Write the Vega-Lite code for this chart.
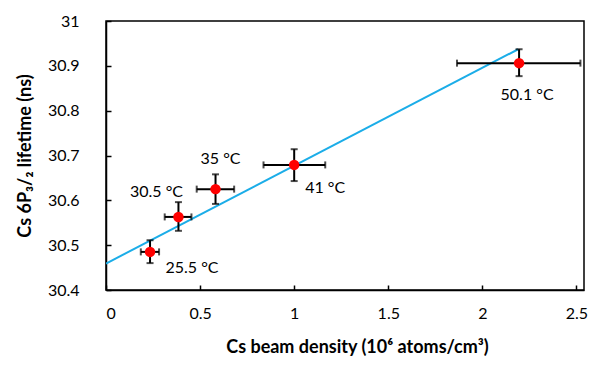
{
  "$schema": "https://vega.github.io/schema/vega-lite/v6.json",
  "width": 478,
  "height": 269,
  "autosize": "none",
  "padding": {"left": 106, "top": 21, "right": 8, "bottom": 77},
  "background": "white",
  "config": {
    "font": "Lato",
    "view": {"stroke": "black", "strokeWidth": 1.5},
    "axis": {
      "grid": false,
      "domainColor": "black",
      "domainWidth": 1.5,
      "tickColor": "black",
      "tickWidth": 1.5,
      "tickSize": -5,
      "labelFontSize": 16,
      "labelColor": "black",
      "titleFontSize": 18,
      "titleFontWeight": "bold",
      "titleColor": "black"
    }
  },
  "datasets": {
    "pts": [
      {"label": "25.5 °C", "x": 0.234, "xlo": 0.185, "xhi": 0.282, "y": 30.485, "ylo": 30.46, "yhi": 30.511},
      {"label": "30.5 °C", "x": 0.385, "xlo": 0.312, "xhi": 0.454, "y": 30.563, "ylo": 30.532, "yhi": 30.596},
      {"label": "35 °C", "x": 0.582, "xlo": 0.482, "xhi": 0.681, "y": 30.625, "ylo": 30.592, "yhi": 30.658},
      {"label": "41 °C", "x": 1.0, "xlo": 0.837, "xhi": 1.165, "y": 30.679, "ylo": 30.643, "yhi": 30.714},
      {"label": "50.1 °C", "x": 2.195, "xlo": 1.865, "xhi": 2.521, "y": 30.906, "ylo": 30.877, "yhi": 30.937}
    ],
    "fit": [
      {"x": 0, "y": 30.459},
      {"x": 2.19, "y": 30.937}
    ]
  },
  "layer": [
    {
      "data": {"name": "fit"},
      "mark": {"type": "line", "color": "#1BADE8", "strokeWidth": 2, "clip": true},
      "encoding": {
        "x": {"field": "x", "type": "quantitative", "title": "Cs beam density (10⁶ atoms/cm³)",
              "scale": {"domain": [0, 2.54], "nice": false, "zero": false},
              "axis": {"values": [0, 0.5, 1, 1.5, 2, 2.5], "format": "~g", "labelPadding": 20, "titlePadding": 17, "titleX": 251}},
        "y": {"field": "y", "type": "quantitative", "title": "Cs 6P₃/₂ lifetime (ns)",
              "scale": {"domain": [30.4, 31], "nice": false, "zero": false},
              "axis": {"values": [30.4, 30.5, 30.6, 30.7, 30.8, 30.9, 31], "format": "~g", "labelPadding": 32, "titlePadding": 13}}
      }
    },
    {
      "data": {"name": "pts"},
      "mark": {"type": "errorbar", "ticks": {"size": 7, "thickness": 2, "color": "black"}, "rule": {"strokeWidth": 2, "color": "black"}},
      "encoding": {
        "x": {"field": "x", "type": "quantitative", "title": "Cs beam density (10⁶ atoms/cm³)"},
        "y": {"field": "ylo", "type": "quantitative", "title": "Cs 6P₃/₂ lifetime (ns)"},
        "y2": {"field": "yhi"}
      }
    },
    {
      "data": {"name": "pts"},
      "mark": {"type": "errorbar", "ticks": {"size": 7, "thickness": 2, "color": "black"}, "rule": {"strokeWidth": 2, "color": "black"}},
      "encoding": {
        "y": {"field": "y", "type": "quantitative", "title": "Cs 6P₃/₂ lifetime (ns)"},
        "x": {"field": "xlo", "type": "quantitative", "title": "Cs beam density (10⁶ atoms/cm³)"},
        "x2": {"field": "xhi"}
      }
    },
    {
      "data": {"name": "pts"},
      "mark": {"type": "point", "filled": true, "color": "#FF0000", "opacity": 1, "size": 110},
      "encoding": {
        "x": {"field": "x", "type": "quantitative", "title": "Cs beam density (10⁶ atoms/cm³)"},
        "y": {"field": "y", "type": "quantitative", "title": "Cs 6P₃/₂ lifetime (ns)"}
      }
    },
    {
      "data": {"name": "pts"},
      "transform": [{"filter": "datum.label === '25.5 °C'"}],
      "mark": {"type": "text", "fontSize": 16, "color": "black", "dx": 42, "dy": 16, "align": "center", "baseline": "middle"},
      "encoding": {
        "x": {"field": "x", "type": "quantitative", "title": "Cs beam density (10⁶ atoms/cm³)"},
        "y": {"field": "y", "type": "quantitative", "title": "Cs 6P₃/₂ lifetime (ns)"},
        "text": {"field": "label"}
      }
    },
    {
      "data": {"name": "pts"},
      "transform": [{"filter": "datum.label === '30.5 °C'"}],
      "mark": {"type": "text", "fontSize": 16, "color": "black", "dx": -22, "dy": -25, "align": "center", "baseline": "middle"},
      "encoding": {
        "x": {"field": "x", "type": "quantitative", "title": "Cs beam density (10⁶ atoms/cm³)"},
        "y": {"field": "y", "type": "quantitative", "title": "Cs 6P₃/₂ lifetime (ns)"},
        "text": {"field": "label"}
      }
    },
    {
      "data": {"name": "pts"},
      "transform": [{"filter": "datum.label === '35 °C'"}],
      "mark": {"type": "text", "fontSize": 16, "color": "black", "dx": 5, "dy": -30, "align": "center", "baseline": "middle"},
      "encoding": {
        "x": {"field": "x", "type": "quantitative", "title": "Cs beam density (10⁶ atoms/cm³)"},
        "y": {"field": "y", "type": "quantitative", "title": "Cs 6P₃/₂ lifetime (ns)"},
        "text": {"field": "label"}
      }
    },
    {
      "data": {"name": "pts"},
      "transform": [{"filter": "datum.label === '41 °C'"}],
      "mark": {"type": "text", "fontSize": 16, "color": "black", "dx": 31, "dy": 23, "align": "center", "baseline": "middle"},
      "encoding": {
        "x": {"field": "x", "type": "quantitative", "title": "Cs beam density (10⁶ atoms/cm³)"},
        "y": {"field": "y", "type": "quantitative", "title": "Cs 6P₃/₂ lifetime (ns)"},
        "text": {"field": "label"}
      }
    },
    {
      "data": {"name": "pts"},
      "transform": [{"filter": "datum.label === '50.1 °C'"}],
      "mark": {"type": "text", "fontSize": 16, "color": "black", "dx": 8, "dy": 32, "align": "center", "baseline": "middle"},
      "encoding": {
        "x": {"field": "x", "type": "quantitative", "title": "Cs beam density (10⁶ atoms/cm³)"},
        "y": {"field": "y", "type": "quantitative", "title": "Cs 6P₃/₂ lifetime (ns)"},
        "text": {"field": "label"}
      }
    }
  ]
}
